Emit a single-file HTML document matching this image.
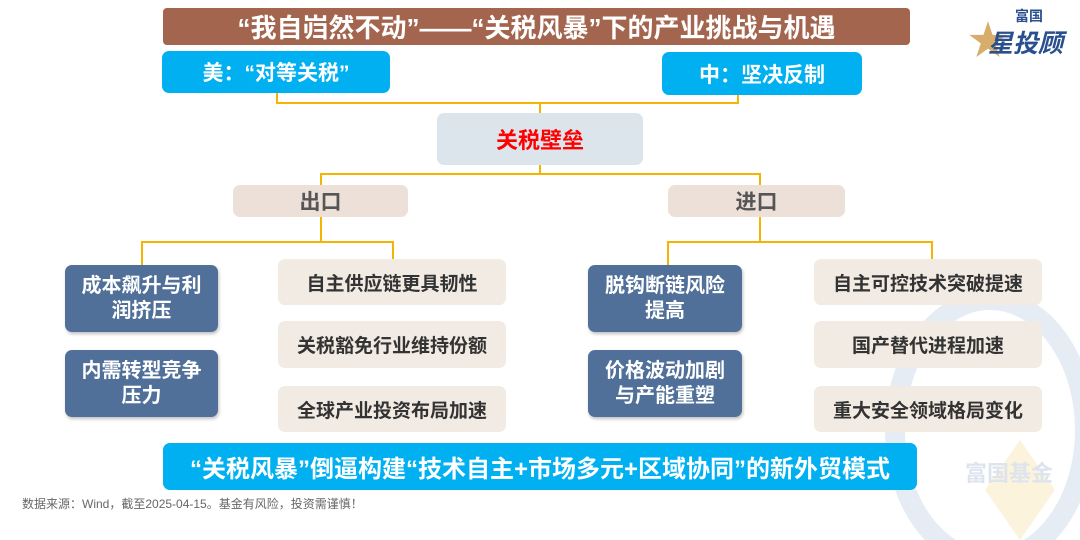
<!DOCTYPE html>
<html><head><meta charset="utf-8"><style>
body{margin:0;width:1080px;height:517px;background:#fff;position:relative;overflow:hidden;font-family:"Liberation Sans","Noto Sans CJK SC",sans-serif;font-weight:bold}
.b{position:absolute;display:flex;align-items:center;justify-content:center;text-align:center;border-radius:7px;box-sizing:border-box}
.l{position:absolute;background:#f5b400}
.d{background:#50709a;color:#fff;font-size:20px;line-height:25px;box-shadow:1px 2px 3px rgba(0,0,0,.25)}
.e{background:#f2ebe4;color:#333;font-size:19px}
</style></head><body>
<svg style="position:absolute;left:870px;top:240px" width="230" height="300"><ellipse cx="120" cy="190" rx="95" ry="130" fill="none" stroke="#e6ecf4" stroke-width="20"/><polygon points="150,200 185,250 150,300 115,250" fill="#fbf3dc"/></svg>
<div style="position:absolute;left:965px;top:456px;font-size:22px;color:#dde4ee">富国基金</div>
<div class="b" style="left:163px;top:8px;width:747px;height:37px;background:#a4654e;color:#fff;font-size:26px;border-radius:4px">“我自岿然不动”——“关税风暴”下的产业挑战与机遇</div>
<div style="position:absolute;left:968px;top:8px;font-size:40px;color:#d6ad6a">★</div>
<div style="position:absolute;left:1015px;top:6px;font-size:14px;color:#2a4f8f">富国</div>
<div style="position:absolute;left:988px;top:24px;font-size:25px;color:#2a4f8f;font-style:italic">星投顾</div>
<div class="b" style="left:162px;top:51px;width:228px;height:42px;background:#00b0f0;color:#fff;font-size:21px">美：“对等关税”</div>
<div class="b" style="left:662px;top:52px;width:200px;height:43px;background:#00b0f0;color:#fff;font-size:21px">中：坚决反制</div>
<div class="l" style="left:276px;top:93px;width:2px;height:11px"></div>
<div class="l" style="left:737px;top:95px;width:2px;height:9px"></div>
<div class="l" style="left:276px;top:102px;width:463px;height:2px"></div>
<div class="l" style="left:539px;top:102px;width:2px;height:11px"></div>
<div class="b" style="left:437px;top:113px;width:206px;height:52px;background:#dde5ec;color:#f00;font-size:22px">关税壁垒</div>
<div class="l" style="left:539px;top:165px;width:2px;height:10px"></div>
<div class="l" style="left:320px;top:173px;width:441px;height:2px"></div>
<div class="l" style="left:320px;top:173px;width:2px;height:12px"></div>
<div class="l" style="left:759px;top:173px;width:2px;height:12px"></div>
<div class="b" style="left:233px;top:185px;width:175px;height:32px;background:#ede0d9;color:#555;font-size:21px">出口</div>
<div class="b" style="left:668px;top:185px;width:177px;height:32px;background:#ede0d9;color:#555;font-size:21px">进口</div>
<div class="l" style="left:320px;top:217px;width:2px;height:25px"></div>
<div class="l" style="left:141px;top:241px;width:253px;height:2px"></div>
<div class="l" style="left:141px;top:241px;width:2px;height:24px"></div>
<div class="l" style="left:392px;top:241px;width:2px;height:18px"></div>
<div class="l" style="left:759px;top:217px;width:2px;height:25px"></div>
<div class="l" style="left:667px;top:241px;width:266px;height:2px"></div>
<div class="l" style="left:667px;top:241px;width:2px;height:24px"></div>
<div class="l" style="left:931px;top:241px;width:2px;height:18px"></div>
<div class="b d" style="left:65px;top:265px;width:153px;height:67px">成本飙升与利<br>润挤压</div>
<div class="b d" style="left:65px;top:350px;width:153px;height:67px">内需转型竞争<br>压力</div>
<div class="b d" style="left:588px;top:265px;width:154px;height:67px">脱钩断链风险<br>提高</div>
<div class="b d" style="left:588px;top:350px;width:154px;height:67px">价格波动加剧<br>与产能重塑</div>
<div class="b e" style="left:278px;top:259px;width:228px;height:46px">自主供应链更具韧性</div>
<div class="b e" style="left:278px;top:321px;width:228px;height:47px">关税豁免行业维持份额</div>
<div class="b e" style="left:278px;top:386px;width:228px;height:46px">全球产业投资布局加速</div>
<div class="b e" style="left:814px;top:259px;width:228px;height:46px">自主可控技术突破提速</div>
<div class="b e" style="left:814px;top:321px;width:228px;height:47px">国产替代进程加速</div>
<div class="b e" style="left:814px;top:386px;width:228px;height:46px">重大安全领域格局变化</div>
<div class="b" style="left:163px;top:443px;width:754px;height:47px;background:#00b0f0;color:#fff;font-size:24px">“关税风暴”倒逼构建“技术自主+市场多元+区域协同”的新外贸模式</div>
<div style="position:absolute;left:22px;top:495px;font-size:12px;font-weight:normal;color:#666">数据来源：Wind，截至2025-04-15。基金有风险，投资需谨慎！</div>
</body></html>
